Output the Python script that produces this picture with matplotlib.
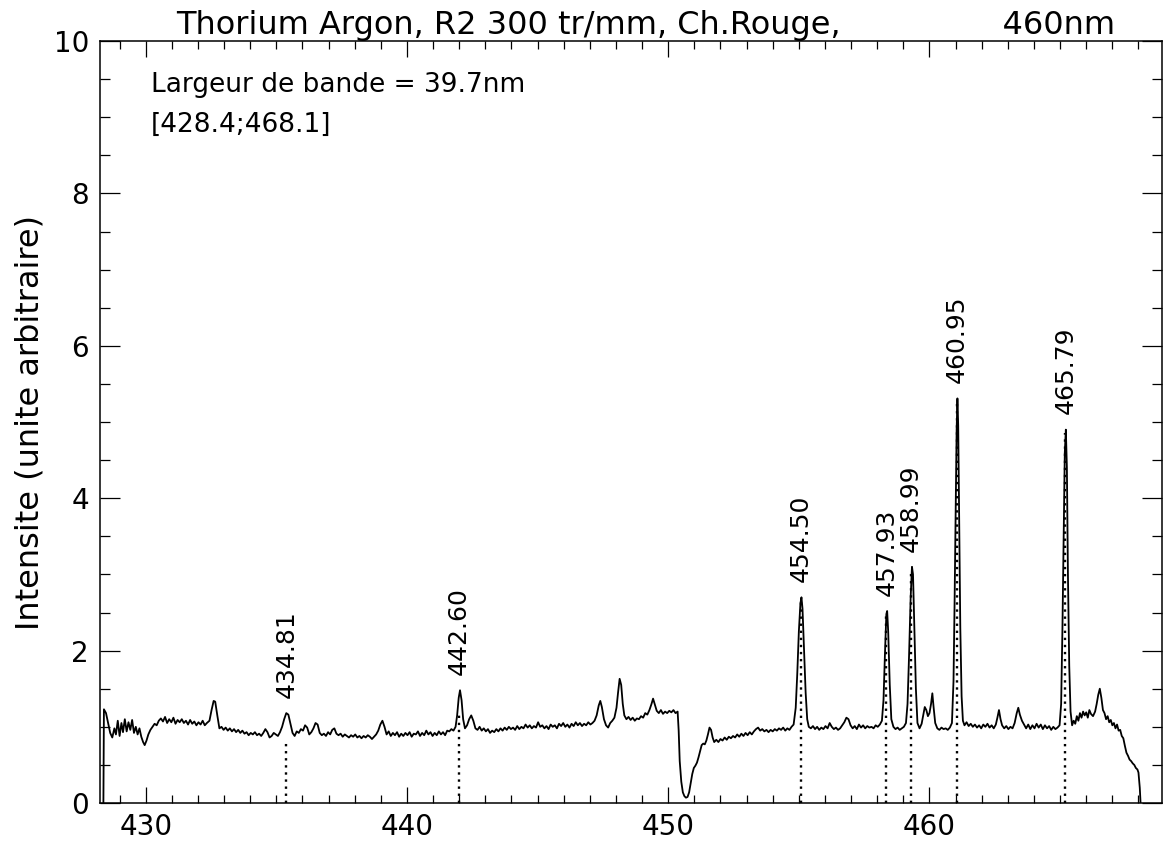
import numpy as np
import matplotlib
matplotlib.use('Agg')
import matplotlib.pyplot as plt
from matplotlib.ticker import MultipleLocator

# Spectrum (wavelength nm, intensity), split in segments
seg_blue = [
    (428.38, 0.00), (428.40, 1.23), (428.48, 1.18), (428.56, 1.05), (428.64, 0.92), (428.72, 0.86),
    (428.80, 0.98), (428.86, 0.90), (428.93, 1.08), (429.00, 0.88), (429.07, 1.05), (429.13, 0.93),
    (429.20, 1.10), (429.27, 0.94), (429.34, 1.06), (429.41, 0.96), (429.48, 1.09), (429.55, 0.92),
    (429.62, 1.00), (429.69, 0.90), (429.76, 0.98), (429.83, 0.87), (429.90, 0.80), (429.96, 0.76),
    (430.03, 0.82), (430.10, 0.90), (430.18, 0.96), (430.26, 1.00), (430.34, 1.04), (430.42, 1.02),
    (430.50, 1.08), (430.58, 1.11), (430.66, 1.07), (430.74, 1.13), (430.82, 1.05), (430.90, 1.10),
    (430.98, 1.06), (431.06, 1.12), (431.14, 1.04), (431.22, 1.09), (431.30, 1.06), (431.38, 1.10),
    (431.46, 1.05), (431.54, 1.08), (431.62, 1.03), (431.70, 1.09), (431.78, 1.04), (431.86, 1.07),
    (431.94, 1.02), (432.02, 1.06), (432.10, 1.03), (432.18, 1.08), (432.26, 1.02), (432.34, 1.05),
    (432.44, 1.08), (432.52, 1.22), (432.60, 1.34), (432.66, 1.33), (432.74, 1.15), (432.82, 0.98),
    (432.90, 1.00), (432.98, 0.96), (433.06, 0.99), (433.14, 0.95), (433.22, 0.98), (433.30, 0.94),
    (433.38, 0.97), (433.46, 0.93), (433.54, 0.96), (433.62, 0.92), (433.70, 0.95), (433.78, 0.91),
    (433.86, 0.93), (433.94, 0.89), (434.02, 0.92), (434.10, 0.90), (434.18, 0.93), (434.26, 0.89),
    (434.34, 0.91), (434.42, 0.88), (434.50, 0.92), (434.58, 0.97), (434.66, 0.93), (434.74, 0.86),
    (434.82, 0.88), (434.90, 0.92), (434.98, 0.90), (435.06, 0.88), (435.14, 0.93), (435.22, 1.00),
    (435.30, 1.10), (435.38, 1.18), (435.46, 1.16), (435.54, 1.04), (435.62, 0.92), (435.70, 0.88),
    (435.78, 0.94), (435.86, 0.92), (435.94, 0.97), (436.02, 0.95), (436.10, 1.02), (436.18, 0.99),
    (436.26, 0.90), (436.34, 0.93), (436.42, 0.98), (436.50, 1.05), (436.58, 1.03), (436.66, 0.92),
    (436.74, 0.89), (436.82, 0.91), (436.90, 0.88), (436.98, 0.93), (437.06, 0.90), (437.14, 0.96),
    (437.22, 0.98), (437.30, 0.91), (437.38, 0.89), (437.46, 0.91), (437.54, 0.87), (437.62, 0.90),
    (437.70, 0.88), (437.78, 0.86), (437.86, 0.89), (437.94, 0.87), (438.02, 0.90), (438.10, 0.86),
    (438.18, 0.88), (438.26, 0.85), (438.34, 0.88), (438.42, 0.86), (438.50, 0.89), (438.58, 0.87),
    (438.66, 0.84), (438.74, 0.87), (438.82, 0.90), (438.90, 0.95), (438.98, 1.03), (439.06, 1.08),
    (439.14, 1.00), (439.22, 0.90), (439.30, 0.94), (439.38, 0.88), (439.46, 0.92), (439.54, 0.89),
    (439.62, 0.93), (439.70, 0.87), (439.78, 0.91), (439.86, 0.88), (439.94, 0.92), (440.02, 0.89),
]

seg_mid = [
    (440.10, 0.93), (440.18, 0.87), (440.26, 0.91), (440.34, 0.90), (440.42, 0.94), (440.50, 0.88),
    (440.58, 0.92), (440.66, 0.89), (440.74, 0.95), (440.82, 0.90), (440.90, 0.93), (440.98, 0.88),
    (441.06, 0.92), (441.14, 0.89), (441.22, 0.94), (441.30, 0.90), (441.38, 0.93), (441.46, 0.89),
    (441.54, 0.95), (441.62, 0.94), (441.70, 0.97), (441.78, 0.95), (441.86, 1.00), (441.92, 1.15),
    (441.98, 1.38), (442.03, 1.48), (442.09, 1.35), (442.15, 1.10), (442.22, 0.98), (442.30, 1.02),
    (442.38, 1.10), (442.46, 1.15), (442.54, 1.08), (442.62, 0.98), (442.70, 0.96), (442.78, 1.00),
    (442.86, 0.95), (442.94, 0.98), (443.02, 0.94), (443.10, 0.97), (443.18, 0.92), (443.26, 0.95),
    (443.34, 0.93), (443.42, 0.97), (443.50, 0.94), (443.58, 0.98), (443.66, 0.95), (443.74, 0.99),
    (443.82, 0.96), (443.90, 1.00), (443.98, 0.97), (444.06, 0.99), (444.14, 0.96), (444.22, 1.01),
    (444.30, 0.97), (444.38, 1.00), (444.46, 0.98), (444.54, 1.03), (444.62, 0.99), (444.70, 1.02),
    (444.78, 0.98), (444.86, 1.01), (444.94, 0.99), (445.02, 1.06), (445.10, 1.00), (445.18, 1.02),
    (445.26, 0.98), (445.34, 1.01), (445.42, 0.97), (445.50, 1.03), (445.58, 1.00), (445.66, 1.02),
    (445.74, 0.98), (445.82, 1.04), (445.90, 1.01), (445.98, 1.05), (446.06, 1.00), (446.14, 1.03),
    (446.22, 0.99), (446.30, 1.04), (446.38, 1.01), (446.46, 1.06), (446.54, 1.02), (446.62, 1.05),
    (446.70, 1.01), (446.78, 1.04), (446.86, 1.02), (446.94, 1.06), (447.02, 1.03), (447.10, 1.05),
    (447.18, 1.08), (447.26, 1.15), (447.34, 1.28), (447.40, 1.34), (447.46, 1.26), (447.54, 1.10),
    (447.62, 1.02), (447.70, 0.99), (447.78, 1.05), (447.86, 1.08), (447.94, 1.12), (448.02, 1.25),
    (448.08, 1.45), (448.14, 1.63), (448.20, 1.55), (448.26, 1.30), (448.32, 1.15), (448.40, 1.10),
    (448.48, 1.13), (448.56, 1.09), (448.64, 1.12), (448.72, 1.08), (448.80, 1.11), (448.88, 1.10),
    (448.96, 1.14), (449.04, 1.12), (449.12, 1.18), (449.20, 1.16), (449.28, 1.22), (449.36, 1.30),
    (449.42, 1.37), (449.48, 1.30), (449.56, 1.21), (449.64, 1.18), (449.72, 1.22), (449.80, 1.17),
    (449.88, 1.20), (449.96, 1.18), (450.04, 1.21), (450.12, 1.19), (450.20, 1.22), (450.28, 1.18),
    (450.36, 1.20), (450.40, 0.95), (450.44, 0.55), (450.50, 0.28), (450.56, 0.14), (450.62, 0.09),
    (450.68, 0.07), (450.74, 0.08), (450.80, 0.14), (450.86, 0.26), (450.92, 0.38), (450.98, 0.46),
    (451.04, 0.49), (451.10, 0.53), (451.16, 0.60), (451.22, 0.68), (451.28, 0.76), (451.34, 0.78),
    (451.40, 0.77), (451.46, 0.82), (451.52, 0.90), (451.58, 0.99), (451.64, 0.96), (451.70, 0.86),
    (451.76, 0.80), (451.84, 0.83), (451.92, 0.80), (452.00, 0.84), (452.08, 0.82), (452.16, 0.86),
    (452.24, 0.83), (452.32, 0.87), (452.40, 0.85), (452.48, 0.88), (452.56, 0.86), (452.64, 0.90),
    (452.72, 0.87), (452.80, 0.91), (452.88, 0.88), (452.96, 0.92), (453.04, 0.89), (453.12, 0.93),
    (453.20, 0.90), (453.28, 0.94), (453.36, 0.97), (453.44, 0.99), (453.52, 0.95), (453.60, 0.97),
    (453.68, 0.94), (453.76, 0.96), (453.84, 0.93), (453.92, 0.96), (454.00, 0.94), (454.08, 0.97),
    (454.16, 0.95), (454.24, 0.98), (454.32, 0.96), (454.40, 0.99), (454.48, 0.95), (454.56, 0.98),
    (454.64, 0.96), (454.72, 1.00), (454.80, 1.03),
]

seg_red = [
    (454.88, 1.25), (454.94, 1.70), (455.00, 2.25), (455.06, 2.62), (455.10, 2.70), (455.14, 2.55),
    (455.20, 2.00), (455.26, 1.45), (455.32, 1.10), (455.38, 1.00), (455.46, 0.98), (455.54, 1.01),
    (455.62, 0.97), (455.70, 1.00), (455.78, 0.96), (455.86, 0.99), (455.94, 0.97), (456.02, 1.01),
    (456.10, 0.98), (456.18, 1.05), (456.26, 1.00), (456.34, 0.97), (456.42, 0.99), (456.50, 0.96),
    (456.58, 0.98), (456.66, 1.02), (456.74, 1.06), (456.82, 1.12), (456.90, 1.10), (456.98, 1.02),
    (457.06, 0.98), (457.14, 1.01), (457.22, 0.97), (457.30, 1.03), (457.38, 0.99), (457.46, 1.02),
    (457.54, 0.98), (457.62, 1.01), (457.70, 0.99), (457.78, 1.00), (457.86, 0.98), (457.94, 1.02),
    (458.02, 1.00), (458.10, 1.03), (458.18, 1.08), (458.24, 1.35), (458.30, 2.00), (458.35, 2.48),
    (458.38, 2.52), (458.42, 2.25), (458.48, 1.55), (458.54, 1.10), (458.62, 1.00), (458.70, 0.97),
    (458.78, 0.99), (458.86, 0.96), (458.94, 0.98), (459.02, 1.00), (459.10, 1.05), (459.16, 1.30),
    (459.22, 1.95), (459.28, 2.70), (459.33, 3.10), (459.37, 3.00), (459.42, 2.30), (459.48, 1.50),
    (459.54, 1.05), (459.62, 0.98), (459.70, 1.04), (459.76, 1.15), (459.82, 1.26), (459.88, 1.22),
    (459.94, 1.14), (460.00, 1.18), (460.06, 1.30), (460.11, 1.44), (460.16, 1.25), (460.22, 1.05),
    (460.30, 0.98), (460.38, 0.96), (460.46, 0.99), (460.54, 0.97), (460.62, 0.98), (460.70, 0.96),
    (460.78, 0.99), (460.86, 1.05), (460.92, 1.60), (460.96, 2.60), (461.00, 3.80), (461.04, 4.90),
    (461.07, 5.31), (461.10, 4.95), (461.14, 3.60), (461.18, 2.30), (461.23, 1.40), (461.28, 1.08),
    (461.34, 1.02), (461.42, 1.06), (461.50, 1.01), (461.58, 1.04), (461.66, 1.00), (461.74, 1.03),
    (461.82, 0.99), (461.90, 1.02), (461.98, 0.98), (462.06, 1.03), (462.14, 1.00), (462.22, 1.04),
    (462.30, 0.99), (462.38, 1.02), (462.46, 0.98), (462.54, 1.03), (462.60, 1.12), (462.66, 1.22),
    (462.72, 1.10), (462.78, 1.02), (462.86, 0.98), (462.94, 1.01), (463.02, 0.97), (463.10, 1.00),
    (463.18, 0.98), (463.26, 1.05), (463.34, 1.18), (463.40, 1.25), (463.46, 1.16), (463.54, 1.08),
    (463.62, 1.03), (463.70, 0.98), (463.78, 1.03), (463.86, 0.97), (463.94, 1.02), (464.02, 0.98),
    (464.10, 1.04), (464.18, 0.99), (464.26, 1.03), (464.34, 0.97), (464.42, 1.02), (464.50, 0.98),
    (464.58, 1.01), (464.66, 0.96), (464.74, 1.00), (464.82, 0.97), (464.90, 0.99), (464.98, 1.02),
    (465.04, 1.30), (465.09, 2.30), (465.14, 3.60), (465.18, 4.60), (465.22, 4.90), (465.26, 4.40),
    (465.30, 3.00), (465.35, 1.80), (465.40, 1.20), (465.46, 1.02), (465.52, 1.08), (465.58, 1.04),
    (465.64, 1.14), (465.70, 1.08), (465.76, 1.18), (465.82, 1.12), (465.88, 1.20), (465.94, 1.15),
    (466.00, 1.19), (466.06, 1.12), (466.12, 1.22), (466.18, 1.17), (466.26, 1.14), (466.34, 1.20),
    (466.40, 1.30), (466.46, 1.42), (466.52, 1.50), (466.58, 1.38), (466.64, 1.22), (466.70, 1.18),
    (466.76, 1.10), (466.82, 1.14), (466.88, 1.06), (466.94, 1.09), (467.00, 1.02), (467.06, 1.05),
    (467.12, 0.98), (467.18, 1.03), (467.24, 0.95), (467.30, 0.96), (467.36, 0.88), (467.42, 0.85),
    (467.48, 0.75), (467.54, 0.66), (467.60, 0.62), (467.66, 0.57), (467.72, 0.55), (467.78, 0.52),
    (467.84, 0.50), (467.90, 0.46), (467.96, 0.44), (468.00, 0.40), (468.05, 0.20), (468.08, 0.00),
]

# identified lines: measured position on the axis, catalogue label, top of dotted marker
line_pos = [435.38, 442.00, 455.08, 458.35, 459.30, 461.05, 465.20]
line_labels = ['434.81', '442.60', '454.50', '457.93', '458.99', '460.95', '465.79']
line_tops = [0.80, 1.20, 2.65, 2.45, 3.05, 5.25, 4.85]

title = 'Thorium Argon, R2 300 tr/mm, Ch.Rouge,                460nm'
info_lines = ['Largeur de bande = 39.7nm', '[428.4;468.1]']

spec = np.array(seg_blue + seg_mid + seg_red)
wl, inten = spec[:, 0], spec[:, 1]

plt.rcParams['font.family'] = ['DejaVu Sans']

fig = plt.figure(figsize=(11.71, 8.46), dpi=100)
ax = fig.add_axes([0.0854, 0.0508, 0.9069, 0.9007])

ax.plot(wl, inten, color='black', lw=1.3)

# dotted markers and rotated labels
for pos, lab, top in zip(line_pos, line_labels, line_tops):
    ax.plot([pos, pos], [0, top], color='black', lw=1.7, linestyle=(0, (1, 2.0)))
    near = np.abs(wl - pos) < 0.15
    peak = inten[near].max()
    ax.text(pos, peak + 0.2, lab, rotation=90, ha='center', va='bottom', fontsize=18)

ax.text(430.2, 9.42, info_lines[0], fontsize=19, va='center')
ax.text(430.2, 8.90, info_lines[1], fontsize=19, va='center')

ax.set_xlim(428.25, 468.9)
ax.set_ylim(0, 10)
ax.xaxis.set_major_locator(MultipleLocator(10))
ax.xaxis.set_minor_locator(MultipleLocator(1))
ax.yaxis.set_major_locator(MultipleLocator(2))
ax.yaxis.set_minor_locator(MultipleLocator(0.5))
ax.tick_params(axis='x', which='major', direction='in', length=11.5, width=0.9,
               top=True, labelsize=20, pad=7)
ax.tick_params(axis='x', which='minor', direction='in', length=5.8, width=0.9, top=True)
ax.tick_params(axis='y', which='major', direction='in', length=14.5, width=0.9,
               right=True, labelsize=20, pad=8)
ax.tick_params(axis='y', which='minor', direction='in', length=7.2, width=0.9, right=True)
for sp in ax.spines.values():
    sp.set_linewidth(1.1)

ax.set_ylabel('Intensite (unite arbitraire)', fontsize=23, labelpad=6)
ax.set_title(title, fontsize=23, pad=5, x=0.514)

fig.savefig('out.png', dpi=100)
